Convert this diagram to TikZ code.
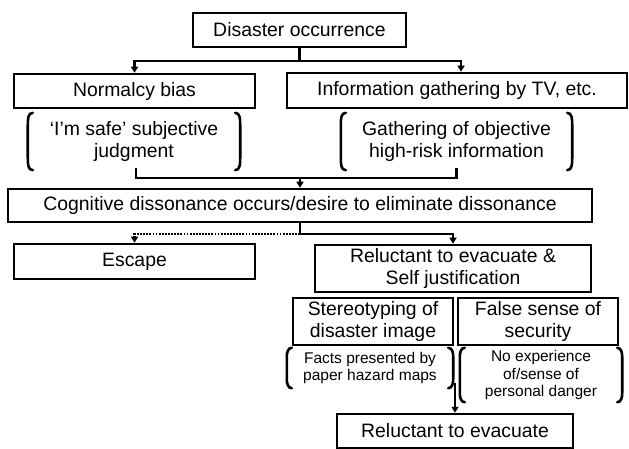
\documentclass[tikz,border=0pt]{standalone}
\usepackage{fontspec}
\setmainfont{Liberation Sans}
\usepackage{tikz}
\usetikzlibrary{arrows.meta}

% round brackets on both sides of a node
\newcommand{\parens}[2]{%
  \draw[brk] ([xshift=5bp]#1.north west) to[out=180,in=90] ([yshift=-#2]#1.north west)
    -- ([yshift=#2]#1.south west) to[out=-90,in=180] ([xshift=5bp]#1.south west);
  \draw[brk] ([xshift=-5bp]#1.north east) to[out=0,in=90] ([yshift=-#2]#1.north east)
    -- ([yshift=#2]#1.south east) to[out=-90,in=0] ([xshift=-5bp]#1.south east);}

\begin{document}
\begin{tikzpicture}[x=1bp, y=-1bp,
    box/.style={draw, line width=2.5bp, inner sep=0pt, align=center,
      font=\fontsize{19.4bp}{22.5bp}\selectfont},
    note/.style={inner sep=0pt, align=center,
      font=\fontsize{19.4bp}{22bp}\selectfont},
    smallnote/.style={inner sep=0pt, align=center,
      font=\fontsize{15.5bp}{17.5bp}\selectfont},
    brk/.style={line width=2.6bp, line cap=round},
    link/.style={line width=2.4bp},
    arrow/.style={line width=2.4bp, -{Triangle[length=6bp,width=7bp]}},
    dotarrow/.style={line width=2.2bp, dash pattern=on 1.8bp off 1.3bp,
      -{Triangle[length=6bp,width=7bp]}}]
    \useasboundingbox (0,0) rectangle (629,449);

    \node[box, minimum width=213bp, minimum height=34bp] at (299.5,30) (disaster) {Disaster occurrence};
    \node[box, minimum width=241bp, minimum height=34bp] at (134.5,91) (normalcy) {Normalcy bias};
    \node[box, minimum width=340bp, minimum height=35bp] at (457,90.5) (info) {Information gathering by TV, etc.};

    \node[note, minimum width=212bp, minimum height=57bp] at (134,141.5) (safe) {`I'm safe' subjective\\judgment};
    \node[note, minimum width=231bp, minimum height=57bp] at (456.5,141.5) (objective) {Gathering of objective\\high-risk information};
    \parens{safe}{12bp}
    \parens{objective}{12bp}

    \node[box, minimum width=584bp, minimum height=33bp] at (300,205.5) (cognitive) {Cognitive dissonance occurs/desire to eliminate dissonance};

    \node[box, minimum width=241bp, minimum height=35bp] at (134.5,261.5) (escape) {Escape};
    \node[box, minimum width=276bp, minimum height=47bp] at (453,268.5) (reluctself) {Reluctant to evacuate \&\\Self justification};

    \node[box, minimum width=160bp, minimum height=47bp] at (373,321.5) (stereo) {Stereotyping of\\disaster image};
    \node[box, minimum width=160bp, minimum height=47bp] at (538,321.5) (falsesense) {False sense of\\security};

    \node[smallnote, minimum width=166bp, minimum height=40bp] at (370,368) (facts) {Facts presented by\\paper hazard maps};
    \node[smallnote, minimum width=162bp, minimum height=54bp] at (541,375) (noexp) {No experience\\of/sense of\\personal danger};
    \parens{facts}{9bp}
    \parens{noexp}{9bp}

    \node[box, minimum width=236bp, minimum height=34bp] at (455,431) (reluct) {Reluctant to evacuate};

    % connectors
    \draw[link] (disaster.south) -- ++(0,13) coordinate (split);
    \draw[arrow] (split) -| (normalcy.north);
    \draw[arrow] (split) -| ([xshift=4bp]info.north);

    \coordinate (merge) at (300,178);
    \draw[link] ([xshift=2bp]safe.south) ++(0,-2) |- (merge);
    \draw[link] (objective.south) ++(0,-2) |- (merge);
    \draw[arrow] (merge) -- (cognitive.north);

    \draw[link] (cognitive.south) -- ++(0,11) coordinate (fork);
    \draw[arrow] (fork) -| (reluctself.north);
    \draw[dotarrow] (fork) -| (escape.north);

    \coordinate (gap) at (455,383);
    \draw[arrow] (gap) -- (reluct.north);
\end{tikzpicture}
\end{document}
